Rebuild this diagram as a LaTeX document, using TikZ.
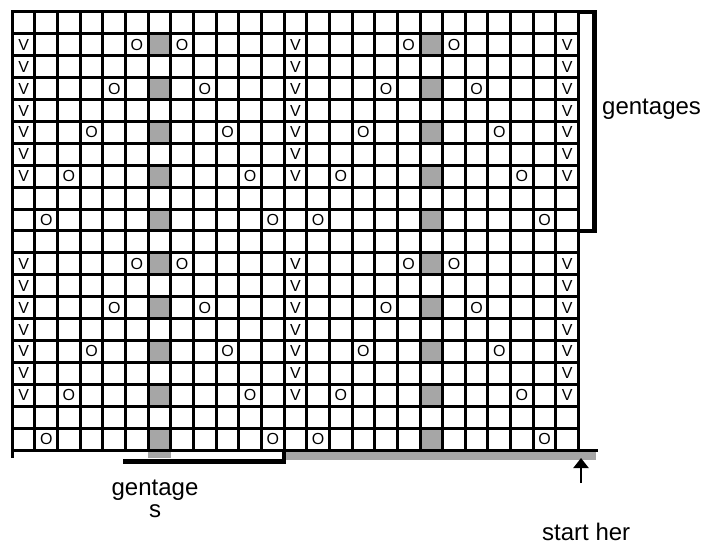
\documentclass[tikz,border=0pt]{standalone}
\usepackage{fontspec}
\setmainfont{Liberation Sans}
\usetikzlibrary{arrows.meta}
\definecolor{shadecol}{RGB}{166,166,166}
\begin{document}
\begin{tikzpicture}[x=1pt,y=-1pt,
  gridline/.style={line width=3pt,line cap=rect},
  bracketline/.style={line width=4.5pt},
  cellmark/.style={font=\fontsize{16}{16}\selectfont, inner sep=0pt},
  lbl/.style={font=\fontsize{24}{26}\selectfont, inner sep=0pt}]
\useasboundingbox (0,0) rectangle (715,545);
\def\xo{12.3}\def\yo{12}\def\cw{22.65}\def\rh{21.9}
% shaded cells
\foreach \c in {6,18}{
  \foreach \r in {1,3,...,19}{
    \fill[shadecol] ({\xo+\c*\cw},{\yo+\r*\rh}) rectangle ++(\cw,\rh);
  }
}
\fill[shadecol] ({\xo+6*\cw},450) rectangle ++(\cw,8);
\fill[shadecol] ({\xo+12*\cw},450) rectangle (596,460);
% grid
\foreach \i in {0,...,25}
  \draw[gridline] ({\xo+\i*\cw},\yo) -- ({\xo+\i*\cw},{\yo+20*\rh});
\foreach \j in {0,...,20}
  \draw[gridline] (\xo,{\yo+\j*\rh}) -- ({\xo+25*\cw},{\yo+\j*\rh});
\draw[gridline] (\xo,{\yo+20*\rh}) -- (596,{\yo+20*\rh});
\draw[gridline,line cap=butt] (\xo,\yo) -- (\xo,458);
% marks
\foreach \b in {0,10}{
  \foreach \r in {1,...,7}{
    \foreach \c in {0,12,24}{
      \pgfmathtruncatemacro{\rr}{\b+\r}
      \node[cellmark] (v-\rr-\c) at ({\xo+(\c+0.5)*\cw},{\yo+(\rr+0.5)*\rh}) {V};
    }
  }
  \foreach \k in {1,3,5,7,9}{
    \pgfmathtruncatemacro{\rr}{\b+\k}
    \pgfmathtruncatemacro{\d}{(\k+1)/2}
    \foreach \m in {6,18}{
      \pgfmathtruncatemacro{\ca}{\m-\d}
      \pgfmathtruncatemacro{\cb}{\m+\d}
      \node[cellmark] (o-\rr-\ca) at ({\xo+(\ca+0.5)*\cw},{\yo+(\rr+0.5)*\rh}) {O};
      \node[cellmark] (o-\rr-\cb) at ({\xo+(\cb+0.5)*\cw},{\yo+(\rr+0.5)*\rh}) {O};
    }
  }
}
% brackets
\draw[bracketline] ({\xo+25*\cw},\yo) -- (594.5,\yo) -- (594.5,{\yo+10*\rh}) -- ({\xo+25*\cw},{\yo+10*\rh});
\draw[bracketline] ({\xo+12*\cw},450) -- ({\xo+12*\cw},461.5) -- (123,461.5);
% labels
\node[lbl,anchor=base west] (gright) at (602,115) {gentages};
\node[lbl,anchor=base] (gbot1) at (155,495) {gentage};
\node[lbl,anchor=base] (gbot2) at (155,517) {s};
\node[lbl,anchor=base west] (start) at (542,540) {start her};
% arrow
\coordinate (arrtail) at (581,483);
\coordinate (arrhead) at (581,458);
\draw[line width=2pt,-{Triangle[width=15pt,length=10pt]}] (arrtail) -- (arrhead);
\end{tikzpicture}
\end{document}
